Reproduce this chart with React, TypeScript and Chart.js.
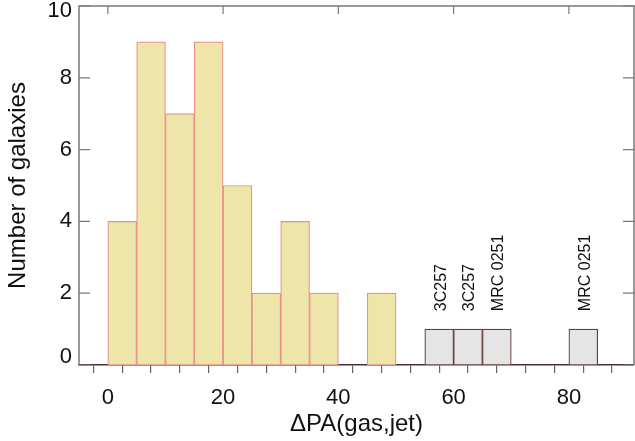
import React, { useEffect, useRef } from 'react';
import { Chart, registerables } from 'chart.js';

Chart.register(...registerables);

// Histogram bins (ΔPA, degrees), width 5
const binCenters = [2.5, 7.5, 12.5, 17.5, 22.5, 27.5, 32.5, 37.5, 42.5, 47.5, 52.5, 57.5, 62.5, 67.5, 72.5, 77.5, 82.5, 87.5];
const mainCounts = [4, 9, 7, 9, 5, 2, 4, 2, 0, 2, 0, 0, 0, 0, 0, 0, 0, 0];
const specialCounts = [0, 0, 0, 0, 0, 0, 0, 0, 0, 0, 0, 1, 1, 1, 0, 0, 1, 0];

const noteX = [57.5, 62.5, 67.5, 82.5];
const noteText = ['3C257', '3C257', 'MRC 0251', 'MRC 0251'];
const noteY = 1.5;

const xMajorTicks = [0, 20, 40, 60, 80];
const xMinorTicks = [-5, 0, 5, 10, 15, 20, 25, 30, 35, 40, 45, 50, 55, 60, 65, 70, 75, 80, 85, 90];
const yTicks = [0, 2, 4, 6, 8, 10];

const FONT = '"Liberation Sans", Arial, Helvetica, sans-serif';

const framePlugin = {
  id: 'frameAndNotes',
  afterDraw(chart: any) {
    const { ctx, chartArea } = chart;
    const xs = chart.scales.x;
    const ys = chart.scales.y;
    const { left, right, top, bottom } = chartArea;
    ctx.save();
    ctx.strokeStyle = '#7a7a7a';
    ctx.lineWidth = 1.5;
    ctx.beginPath();
    ctx.moveTo(left, bottom);
    ctx.lineTo(left, top);
    ctx.lineTo(right, top);
    ctx.lineTo(right, bottom);
    ctx.stroke();
    ctx.lineWidth = 1.2;
    yTicks.forEach((v) => {
      const py = ys.getPixelForValue(v);
      ctx.beginPath();
      ctx.moveTo(left, py);
      ctx.lineTo(left + 11, py);
      ctx.moveTo(right, py);
      ctx.lineTo(right - 11, py);
      ctx.stroke();
    });
    xMajorTicks.forEach((v) => {
      const px = xs.getPixelForValue(v);
      ctx.beginPath();
      ctx.moveTo(px, top);
      ctx.lineTo(px, top + 8);
      ctx.stroke();
    });
    ctx.fillStyle = '#111';
    ctx.font = `16px ${FONT}`;
    ctx.textAlign = 'left';
    ctx.textBaseline = 'middle';
    noteX.forEach((v, i) => {
      const px = xs.getPixelForValue(v);
      const py = ys.getPixelForValue(noteY);
      ctx.save();
      ctx.translate(px + 2, py);
      ctx.rotate(-Math.PI / 2);
      ctx.fillText(noteText[i], 0, 0);
      ctx.restore();
    });
    ctx.restore();
  },
};

export default function App() {
  const ref = useRef<HTMLCanvasElement | null>(null);
  useEffect(() => {
    if (!ref.current) return;
    const yMin = yTicks[0];
    const yMax = yTicks[yTicks.length - 1];
    const chart = new Chart(ref.current, {
      type: 'bar',
      data: {
        datasets: [
          {
            data: binCenters.map((x, i) => ({ x, y: mainCounts[i] > 0 ? mainCounts[i] : null })),
            backgroundColor: '#ede6a8',
            borderColor: '#e8908a',
            borderWidth: 1.2,
            borderSkipped: false,
            barPercentage: 1,
            categoryPercentage: 1,
            grouped: false,
          },
          {
            data: binCenters.map((x, i) => ({ x, y: specialCounts[i] > 0 ? specialCounts[i] : null })),
            backgroundColor: '#e5e5e5',
            borderColor: '#6a3c3c',
            borderWidth: 1.2,
            borderSkipped: false,
            barPercentage: 1,
            categoryPercentage: 1,
            grouped: false,
          },
        ] as any,
      },
      options: {
        animation: false,
        responsive: false,
        devicePixelRatio: 1,
        layout: { padding: { top: 6, right: 1, bottom: 0, left: 0 } },
        plugins: { legend: { display: false }, tooltip: { enabled: false } },
        scales: {
          x: {
            type: 'linear',
            min: -5,
            max: 91.3,
            offset: false,
            afterBuildTicks: (scale: any) => {
              scale.ticks = xMinorTicks.map((v) => ({ value: v }));
            },
            afterFit: (scale: any) => {
              scale.height = 76;
              scale.paddingLeft = 0;
              scale.paddingRight = 0;
            },
            grid: {
              display: true,
              drawOnChartArea: false,
              drawTicks: true,
              tickLength: 8,
              color: '#666',
              lineWidth: 1.2,
            },
            border: { display: true, color: '#4a3030', width: 1.5 },
            ticks: {
              autoSkip: false,
              maxRotation: 0,
              padding: 12,
              color: '#111',
              font: { family: FONT, size: 22 },
              callback: (v: any) => (xMajorTicks.includes(Number(v)) ? String(v) : ''),
            },
            title: {
              display: true,
              text: 'ΔPA(gas,jet)',
              color: '#111',
              font: { family: FONT, size: 24 },
              padding: { top: 0, bottom: 2 },
            },
          },
          y: {
            type: 'linear',
            min: yMin,
            max: yMax,
            afterBuildTicks: (scale: any) => {
              scale.ticks = yTicks.map((v) => ({ value: v }));
            },
            afterFit: (scale: any) => {
              scale.width = 79;
              scale.paddingTop = 0;
              scale.paddingBottom = 0;
            },
            grid: { display: false, drawTicks: false },
            border: { display: false },
            ticks: {
              padding: 7,
              color: '#111',
              font: (c: any) => {
                const v = c && c.tick ? c.tick.value : null;
                if (v === yMax) return { family: FONT, size: 22, lineHeight: '10px' };
                if (v === yMin) return { family: FONT, size: 22, lineHeight: '16px' };
                return { family: FONT, size: 22 };
              },
              callback: (v: any) => {
                const n = Number(v);
                if (n === yMax) return ['', String(n)];
                if (n === yMin) return [String(n), ''];
                return String(n);
              },
            },
            title: {
              display: true,
              text: 'Number of galaxies',
              color: '#111',
              font: { family: FONT, size: 24 },
              padding: { top: 4, bottom: 0 },
            },
          },
        },
      } as any,
      plugins: [framePlugin],
    });
    return () => chart.destroy();
  }, []);
  return (
    <div style={{ position: 'absolute', left: 0, top: 0, width: 635, height: 441, background: '#fff' }}>
      <canvas ref={ref} width={635} height={441} />
    </div>
  );
}
